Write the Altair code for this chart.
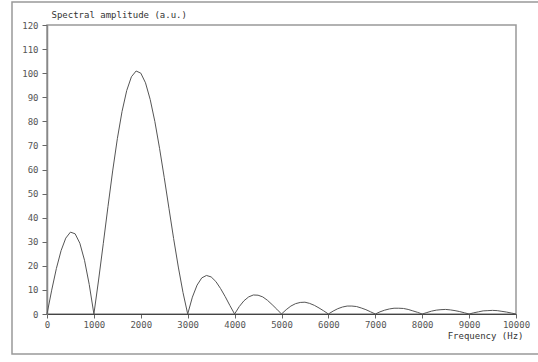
import altair as alt
import pandas as pd

freq = [i * 100 for i in range(101)]
amplitude = [
    0.0, 9.9, 18.9, 26.3, 31.5, 34.0, 33.3, 29.4, 22.3, 12.3,
    0.0, 14.1, 29.2, 44.6, 59.4, 72.8, 84.1, 92.8, 98.5, 100.9,
    100.0, 96.0, 89.1, 79.9, 68.8, 56.6, 43.9, 31.3, 19.5, 8.9,
    0.0, 7.0, 12.0, 15.0, 16.0, 15.4, 13.5, 10.6, 7.2, 3.5,
    0.0, 3.1, 5.5, 7.1, 7.9, 7.8, 7.1, 5.7, 3.9, 2.0,
    0.0, 1.8, 3.3, 4.3, 4.8, 4.9, 4.4, 3.6, 2.5, 1.3,
    0.0, 1.2, 2.2, 2.9, 3.3, 3.3, 3.1, 2.5, 1.8, 0.9,
    0.0, 0.9, 1.6, 2.1, 2.4, 2.4, 2.3, 1.9, 1.3, 0.7,
    0.0, 0.6, 1.2, 1.6, 1.8, 1.9, 1.7, 1.4, 1.0, 0.5,
    0.0, 0.5, 0.9, 1.3, 1.4, 1.5, 1.4, 1.1, 0.8, 0.4,
    0.0,
]
x_ticks = [i * 1000 for i in range(11)]
y_ticks = [i * 10 for i in range(13)]

df = pd.DataFrame({"f": freq, "a": amplitude})
FONT = "DejaVu Sans Mono"

frame = alt.Chart(pd.DataFrame({"k": [0]})).mark_rect(
    filled=False, stroke="#999999", strokeWidth=1.5, clip=False
).encode(
    x=alt.value(-35), x2=alt.value(500), y=alt.value(-23), y2=alt.value(329)
)

line = alt.Chart(df).mark_line(color="#555555", strokeWidth=1, clip=False).encode(
    x=alt.X(
        "f:Q",
        scale=alt.Scale(domain=[0, 10000], nice=False),
        axis=alt.Axis(
            values=x_ticks, format="d", grid=False, title="Frequency (Hz)",
            titleFont=FONT, titleFontSize=9, titleFontWeight="normal", titleColor="#333333",
            titleAlign="right", titleAnchor="end", titleX=476, titleY=21, titleBaseline="middle",
            labelFont=FONT, labelFontSize=9, labelColor="#555555", labelPadding=2,
            tickSize=4, tickColor="#666666", domainColor="#444444", domainWidth=1,
            labelFlush=False, labelOverlap=False,
        ),
    ),
    y=alt.Y(
        "a:Q",
        scale=alt.Scale(domain=[0, 120], nice=False),
        axis=alt.Axis(
            values=y_ticks, grid=False, title="Spectral amplitude (a.u.)",
            titleFont=FONT, titleFontSize=9, titleFontWeight="normal", titleColor="#333333",
            titleAngle=0, titleAlign="left", titleAnchor="start", titleX=4, titleY=-6,
            titleBaseline="bottom",
            labelFont=FONT, labelFontSize=9, labelColor="#555555", labelPadding=4,
            tickSize=5, tickColor="#666666", domainColor="#888888", domainWidth=1.5,
            labelOverlap=False,
        ),
    ),
)

chart = alt.layer(frame, line).properties(
    width=469,
    height=289,
    autosize=alt.AutoSizeParams(type="none"),
    padding={"left": 47, "top": 25, "right": 22, "bottom": 48},
    background="white",
).configure_view(stroke="#999999", strokeWidth=1.5)

chart.save("out.html", embed_options={"renderer": "svg", "actions": False})
